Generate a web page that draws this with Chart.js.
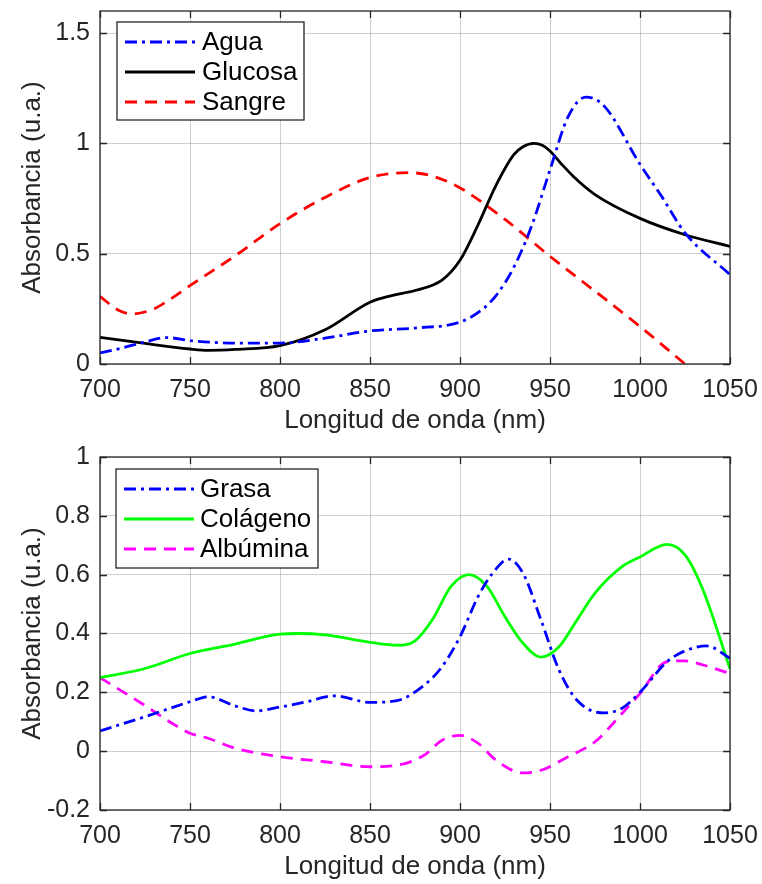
<!DOCTYPE html>
<html lang="es">
<head>
<meta charset="utf-8">
<title>Espectros de absorbancia</title>
<script src="https://cdn.jsdelivr.net/npm/chart.js@4.4.1/dist/chart.umd.min.js"></script>
<style>
  html, body { margin: 0; padding: 0; background: #fff; }
  #lienzo { position: relative; width: 762px; height: 884px; }
  #lienzo canvas { position: absolute; left: 0; }
  #chart-superior { top: 0; }
  #chart-inferior { top: 440px; }
</style>
</head>
<body>
<div id="lienzo">
  <canvas id="chart-superior" width="762" height="440"></canvas>
  <canvas id="chart-inferior" width="762" height="444"></canvas>
</div>
<script>
// Datos (longitud de onda en nm, absorbancia en u.a.)

// Panel superior
const aguaNm = [700, 712, 725, 737, 750, 775, 800, 825, 850, 875, 900, 912, 920, 930, 940, 950, 960, 970, 980, 1000, 1012, 1025, 1050];
const aguaAbs = [0.05, 0.072, 0.10, 0.12, 0.106, 0.095, 0.095, 0.117, 0.15, 0.163, 0.19, 0.245, 0.31, 0.44, 0.63, 0.88, 1.12, 1.21, 1.17, 0.905, 0.76, 0.594, 0.405];

const glucosaNm = [700, 725, 750, 760, 775, 800, 825, 850, 862, 875, 890, 900, 910, 920, 930, 935, 941, 946, 950, 956, 963, 975, 1000, 1025, 1050];
const glucosaAbs = [0.121, 0.093, 0.068, 0.062, 0.066, 0.083, 0.155, 0.28, 0.31, 0.333, 0.38, 0.47, 0.63, 0.81, 0.95, 0.985, 1.0, 0.99, 0.965, 0.91, 0.85, 0.768, 0.66, 0.586, 0.533];

const sangreNm = [700, 710, 718, 730, 737, 750, 775, 800, 825, 850, 872, 895, 925, 950, 975, 1000, 1025, 1050];
const sangreAbs = [0.306, 0.245, 0.227, 0.25, 0.283, 0.355, 0.49, 0.636, 0.755, 0.845, 0.867, 0.82, 0.655, 0.488, 0.33, 0.17, 0.0, -0.17];

// Panel inferior
const grasaNm = [700, 725, 750, 760, 775, 787, 800, 815, 830, 850, 865, 880, 890, 900, 910, 918, 927, 935, 945, 955, 965, 980, 990, 1000, 1015, 1025, 1037, 1050];
const grasaAbs = [0.069, 0.117, 0.168, 0.185, 0.154, 0.137, 0.15, 0.168, 0.188, 0.166, 0.172, 0.224, 0.287, 0.389, 0.525, 0.604, 0.653, 0.605, 0.446, 0.276, 0.173, 0.13, 0.146, 0.2, 0.304, 0.341, 0.358, 0.316];

const colagenoNm = [700, 725, 750, 775, 800, 810, 825, 850, 865, 875, 885, 895, 905, 915, 925, 935, 945, 955, 965, 975, 990, 1000, 1015, 1025, 1035, 1050];
const colagenoAbs = [0.25, 0.281, 0.332, 0.364, 0.398, 0.40, 0.395, 0.37, 0.36, 0.375, 0.45, 0.56, 0.60, 0.56, 0.457, 0.367, 0.32, 0.355, 0.446, 0.537, 0.627, 0.66, 0.703, 0.667, 0.548, 0.28];

const albuminaNm = [700, 725, 740, 750, 760, 775, 800, 825, 850, 865, 880, 890, 900, 910, 920, 935, 945, 960, 975, 990, 1000, 1015, 1025, 1035, 1050];
const albuminaAbs = [0.25, 0.155, 0.095, 0.061, 0.044, 0.01, -0.019, -0.036, -0.053, -0.048, -0.014, 0.037, 0.054, 0.027, -0.031, -0.074, -0.065, -0.019, 0.032, 0.128, 0.196, 0.304, 0.307, 0.293, 0.264];

// Marcas de los ejes
const xTicks = [700, 750, 800, 850, 900, 950, 1000, 1050];
const yTicksSuperior = [0, 0.5, 1, 1.5];
const yTicksInferior = [-0.2, 0, 0.2, 0.4, 0.6, 0.8, 1];

const FUENTE = '"Liberation Sans", Arial, Helvetica, sans-serif';
const COLOR_TEXTO = '#262626';

window.EspectrosView = {
    chartSuperior: null,
    chartInferior: null,

    init() {
        Chart.defaults.font.family = FUENTE;
        Chart.defaults.color = COLOR_TEXTO;
        this.setupCharts();
    },

    // Convierte dos listas en puntos {x, y}
    serie(nm, abs) {
        return nm.map((x, i) => ({ x: x, y: abs[i] }));
    },

    dataset(label, nm, abs, color, dash) {
        return {
            label: label,
            data: this.serie(nm, abs),
            borderColor: color,
            backgroundColor: color,
            borderWidth: 2.8,
            borderDash: dash,
            borderJoinStyle: 'round',
            pointRadius: 0,
            cubicInterpolationMode: 'monotone',
            fill: false
        };
    },

    // Caja y marcas hacia dentro, estilo MATLAB
    marcoPlugin: {
        id: 'marcoMatlab',
        afterDraw(chart) {
            const { ctx, chartArea: a, scales } = chart;
            const largo = 7;
            ctx.save();
            ctx.strokeStyle = COLOR_TEXTO;
            ctx.lineWidth = 1.3;
            ctx.beginPath();
            scales.x.ticks.forEach(t => {
                const px = Math.round(scales.x.getPixelForValue(t.value)) + 0.5;
                ctx.moveTo(px, a.bottom); ctx.lineTo(px, a.bottom - largo);
                ctx.moveTo(px, a.top); ctx.lineTo(px, a.top + largo);
            });
            scales.y.ticks.forEach(t => {
                const py = Math.round(scales.y.getPixelForValue(t.value)) + 0.5;
                ctx.moveTo(a.left, py); ctx.lineTo(a.left + largo, py);
                ctx.moveTo(a.right, py); ctx.lineTo(a.right - largo, py);
            });
            ctx.stroke();
            ctx.strokeRect(a.left, a.top, a.right - a.left, a.bottom - a.top);
            ctx.restore();
        }
    },

    // Leyenda con marco dentro del área del gráfico
    leyendaPlugin: {
        id: 'leyendaCaja',
        afterDraw(chart, args, opts) {
            const ctx = chart.ctx;
            ctx.save();
            ctx.fillStyle = '#ffffff';
            ctx.fillRect(opts.x, opts.y, opts.w, opts.h);
            ctx.lineWidth = 1.3;
            ctx.strokeStyle = COLOR_TEXTO;
            ctx.strokeRect(opts.x, opts.y, opts.w, opts.h);
            ctx.font = opts.fontSize + 'px ' + FUENTE;
            ctx.textBaseline = 'middle';
            chart.data.datasets.forEach((ds, i) => {
                const yc = opts.y + opts.primeraFila + i * opts.altoFila;
                ctx.beginPath();
                ctx.setLineDash(ds.borderDash || []);
                ctx.strokeStyle = ds.borderColor;
                ctx.lineWidth = ds.borderWidth;
                ctx.moveTo(opts.x + opts.inicioLinea, yc);
                ctx.lineTo(opts.x + opts.inicioLinea + opts.largoLinea, yc);
                ctx.stroke();
                ctx.setLineDash([]);
                ctx.fillStyle = '#000000';
                ctx.fillText(ds.label, opts.x + opts.inicioTexto, yc + 1);
            });
            ctx.restore();
        }
    },

    opcionesEjes(yMin, yMax, yTicks, alturaX, tituloPadding) {
        const fmt = v => String(Math.round(v * 10) / 10);
        return {
            x: {
                type: 'linear',
                min: 700,
                max: 1050,
                afterBuildTicks: scale => { scale.ticks = xTicks.map(v => ({ value: v })); },
                afterFit: scale => {
                    scale.height = alturaX;
                    scale.paddingLeft = 0;
                    scale.paddingRight = 0;
                },
                ticks: { font: { size: 25 }, padding: 11, maxRotation: 0, color: COLOR_TEXTO, callback: v => String(v) },
                grid: { color: 'rgba(0,0,0,0.19)', lineWidth: 1, drawTicks: false },
                border: { display: false },
                title: { display: true, text: 'Longitud de onda (nm)', font: { size: 26 }, color: COLOR_TEXTO, padding: { top: 0, bottom: tituloPadding } }
            },
            y: {
                type: 'linear',
                min: yMin,
                max: yMax,
                afterBuildTicks: scale => { scale.ticks = yTicks.map(v => ({ value: v })); },
                afterFit: scale => {
                    scale.width = 100;
                    scale.paddingTop = 0;
                    scale.paddingBottom = 0;
                },
                ticks: { font: { size: 25 }, padding: 10, color: COLOR_TEXTO, callback: fmt },
                grid: { color: 'rgba(0,0,0,0.19)', lineWidth: 1, drawTicks: false },
                border: { display: false },
                title: { display: true, text: 'Absorbancia (u.a.)', font: { size: 26 }, color: COLOR_TEXTO, padding: { top: 17, bottom: 0 } }
            }
        };
    },

    setupCharts() {
        const rayas = [12, 8];
        const rayaPunto = [12, 5, 3, 5];

        // Panel superior: agua, glucosa y sangre
        const ctxSup = document.getElementById('chart-superior');
        this.chartSuperior = new Chart(ctxSup, {
            type: 'line',
            data: {
                datasets: [
                    this.dataset('Agua', aguaNm, aguaAbs, '#0000ff', rayaPunto),
                    this.dataset('Glucosa', glucosaNm, glucosaAbs, '#000000', []),
                    this.dataset('Sangre', sangreNm, sangreAbs, '#ff0000', rayas)
                ]
            },
            options: {
                responsive: false,
                animation: false,
                layout: { padding: { left: 0, right: 32, top: 11, bottom: 0 } },
                scales: this.opcionesEjes(0, 1.6, yTicksSuperior, 76, 4),
                plugins: {
                    legend: { display: false },
                    tooltip: { enabled: false },
                    leyendaCaja: { x: 117, y: 22, w: 187, h: 98, primeraFila: 20, altoFila: 30, inicioLinea: 8, largoLinea: 70, inicioTexto: 85, fontSize: 26 }
                }
            },
            plugins: [this.marcoPlugin, this.leyendaPlugin]
        });

        // Panel inferior: grasa, colágeno y albúmina
        const ctxInf = document.getElementById('chart-inferior');
        this.chartInferior = new Chart(ctxInf, {
            type: 'line',
            data: {
                datasets: [
                    this.dataset('Grasa', grasaNm, grasaAbs, '#0000ff', rayaPunto),
                    this.dataset('Colágeno', colagenoNm, colagenoAbs, '#00ff00', []),
                    this.dataset('Albúmina', albuminaNm, albuminaAbs, '#ff00ff', rayas)
                ]
            },
            options: {
                responsive: false,
                animation: false,
                layout: { padding: { left: 0, right: 32, top: 17, bottom: 0 } },
                scales: this.opcionesEjes(-0.2, 1, yTicksInferior, 74, 2),
                plugins: {
                    legend: { display: false },
                    tooltip: { enabled: false },
                    leyendaCaja: { x: 116, y: 29, w: 202, h: 99, primeraFila: 20, altoFila: 30, inicioLinea: 8, largoLinea: 70, inicioTexto: 84, fontSize: 26 }
                }
            },
            plugins: [this.marcoPlugin, this.leyendaPlugin]
        });
    }
};

if (document.readyState === 'loading') {
    document.addEventListener('DOMContentLoaded', () => window.EspectrosView.init());
} else {
    window.EspectrosView.init();
}
</script>
</body>
</html>
